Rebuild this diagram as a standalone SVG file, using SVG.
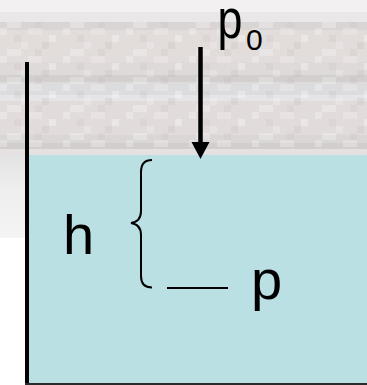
<svg xmlns="http://www.w3.org/2000/svg" width="367" height="385" viewBox="0 0 367 385">
  <style>
    .lbl { font-family: "Liberation Sans", Arial, sans-serif; fill: #000; }
    .ln { stroke: #000; fill: none; }
  </style>
  <defs>
    <linearGradient id="leftfade" x1="0" y1="0" x2="0" y2="1">
      <stop offset="0" stop-color="#e4e3e3"/>
      <stop offset="0.4" stop-color="#eeeeee"/>
      <stop offset="1" stop-color="#f4f4f4"/>
    </linearGradient>
    <pattern id="stone" x="0" y="0" width="63" height="28" patternUnits="userSpaceOnUse">
      <rect x="0" y="0" width="7" height="7" fill="#ffffff" opacity="0.25"/>
      <rect x="14" y="7" width="7" height="7" fill="#b8b0ae" opacity="0.15"/>
      <rect x="28" y="0" width="14" height="7" fill="#f6eeee" opacity="0.35"/>
      <rect x="42" y="14" width="7" height="7" fill="#b8b0ae" opacity="0.2"/>
      <rect x="7" y="21" width="14" height="7" fill="#ffffff" opacity="0.25"/>
      <rect x="49" y="7" width="7" height="7" fill="#ffffff" opacity="0.3"/>
      <rect x="21" y="14" width="7" height="7" fill="#ffffff" opacity="0.2"/>
      <rect x="35" y="21" width="7" height="7" fill="#b8b0ae" opacity="0.15"/>
    </pattern>
  </defs>

  <!-- background -->
  <rect x="0" y="0" width="367" height="385" fill="#ffffff"/>
  <g id="stone-bg">
    <rect x="0" y="0" width="367" height="155" fill="#e0dcdb"/>
    <rect x="0" y="0" width="367" height="12" fill="#f2f0f0"/>
    <rect x="0" y="12" width="367" height="10" fill="#e9e7e7"/>
    <rect x="0" y="22" width="367" height="8" fill="#d9d5d4"/>
    <rect x="0" y="30" width="367" height="32" fill="#e2dcdb"/>
    <rect x="0" y="62" width="367" height="13" fill="#dedad9"/>
    <rect x="0" y="75" width="367" height="7" fill="#d2cfce"/>
    <rect x="0" y="82" width="367" height="13" fill="#dcdbdd"/>
    <rect x="0" y="95" width="367" height="6" fill="#e5e4e6"/>
    <rect x="0" y="101" width="367" height="34" fill="#e1dcdb"/>
    <rect x="0" y="135" width="367" height="8" fill="#dad6d5"/>
    <rect x="0" y="143" width="367" height="6" fill="#d2cecd"/>
    <rect x="0" y="149" width="367" height="6" fill="#e4e1e0"/>
    <rect x="0" y="22" width="367" height="125" fill="url(#stone)"/>
    <rect x="0" y="155" width="27" height="83" fill="url(#leftfade)"/>
  </g>

  <g id="water">
    <rect x="28" y="155" width="339" height="228" fill="#bbe0e3"/>
  </g>

  <g id="container">
    <line class="ln" x1="27" y1="62" x2="27" y2="385" stroke-width="4"/>
    <rect x="25" y="383" width="342" height="2" fill="#2a2a2a"/>
  </g>

  <g id="connectors">
    <line class="ln" x1="200.5" y1="47" x2="200.5" y2="144" stroke-width="4.5"/>
    <polygon points="191.5,142 209.5,142 200.5,159" fill="#000"/>
    <path class="ln" stroke-width="2" d="M152,160 C145,160 141,163 141,172 L141,211 C141,218 138,222 131,223 C138,224 141,228 141,235 L141,276 C141,284 145,287.5 152,287.5"/>
    <line class="ln" x1="167" y1="288" x2="228" y2="288" stroke-width="2"/>
  </g>

  <g id="label-p0">
    <text class="lbl" x="0" y="38" font-size="56" transform="translate(217.5 0) scale(0.8 1)">p</text>
    <text class="lbl" x="246" y="50" font-size="30">0</text>
  </g>
  <g id="label-h">
    <text class="lbl" x="63" y="254" font-size="56">h</text>
  </g>
  <g id="label-p">
    <text class="lbl" x="251" y="299" font-size="56">p</text>
  </g>
</svg>
